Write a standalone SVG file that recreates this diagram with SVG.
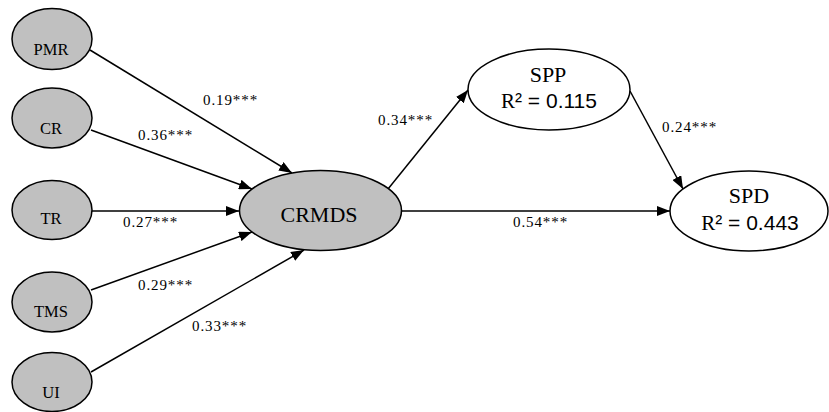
<svg xmlns="http://www.w3.org/2000/svg" width="829" height="412" viewBox="0 0 829 412">
  <style>
    .bg { fill: #ffffff; }
    .node-grey { fill: #c0c0c0; stroke: #000000; stroke-width: 1.5; }
    .node-white { fill: #ffffff; stroke: #000000; stroke-width: 1.5; }
    .edge { fill: none; stroke: #000000; stroke-width: 1.5; marker-end: url(#arrow); }
    .serif { font-family: "Liberation Serif", serif; fill: #000000; }
    .sans { font-family: "Liberation Sans", sans-serif; fill: #000000; }
    .small { font-size: 16.5px; text-anchor: middle; }
    .big { font-size: 22px; text-anchor: middle; }
    .r2 { font-size: 21px; text-anchor: middle; }
    .coef { font-size: 15px; letter-spacing: 0.9px; }
  </style>
  <defs>
    <marker id="arrow" markerUnits="userSpaceOnUse" markerWidth="13" markerHeight="10" refX="13" refY="5" orient="auto">
      <path d="M0,0 L13,5 L0,10 Z" fill="#000000"/>
    </marker>
  </defs>

  <rect class="bg" x="0" y="0" width="829" height="412"/>

  <!-- paths between constructs -->
  <g id="connectors">
    <path class="edge" d="M90,50 L292,173"/>
    <path class="edge" d="M91,130 L252,189"/>
    <path class="edge" d="M92,211 L239,211"/>
    <path class="edge" d="M91,290 L252,232"/>
    <path class="edge" d="M91,372 L304,250"/>
    <path class="edge" d="M388,189 L468,90"/>
    <path class="edge" d="M630,91 L683,189"/>
    <path class="edge" d="M402,211 L670,211"/>

    <text class="serif coef" x="203" y="105">0.19***</text>
    <text class="serif coef" x="138" y="140">0.36***</text>
    <text class="serif coef" x="123" y="227">0.27***</text>
    <text class="serif coef" x="138" y="290">0.29***</text>
    <text class="serif coef" x="192" y="331">0.33***</text>
    <text class="serif coef" x="378" y="125">0.34***</text>
    <text class="serif coef" x="662" y="132">0.24***</text>
    <text class="serif coef" x="513" y="227">0.54***</text>
  </g>

  <!-- antecedent constructs -->
  <g id="PMR">
    <ellipse class="node-grey" cx="52" cy="39" rx="40" ry="30.5"/>
    <text class="serif small" x="51" y="55">PMR</text>
  </g>
  <g id="CR">
    <ellipse class="node-grey" cx="52" cy="118" rx="40" ry="30"/>
    <text class="serif small" x="51" y="134">CR</text>
  </g>
  <g id="TR">
    <ellipse class="node-grey" cx="52" cy="210" rx="40" ry="29.5"/>
    <text class="serif small" x="51" y="224">TR</text>
  </g>
  <g id="TMS">
    <ellipse class="node-grey" cx="52" cy="302" rx="40" ry="30"/>
    <text class="serif small" x="51" y="317">TMS</text>
  </g>
  <g id="UI">
    <ellipse class="node-grey" cx="52" cy="382" rx="40" ry="29.5"/>
    <text class="serif small" x="51" y="398">UI</text>
  </g>

  <!-- central construct -->
  <g id="CRMDS">
    <ellipse class="node-grey" cx="320.5" cy="210.5" rx="81" ry="40"/>
    <text class="serif big" x="319" y="222">CRMDS</text>
  </g>

  <!-- outcome constructs -->
  <g id="SPP">
    <ellipse class="node-white" cx="549" cy="89.5" rx="81" ry="40.5"/>
    <text class="serif big" x="548" y="82">SPP</text>
    <text class="sans r2" x="549" y="108"><tspan class="serif">R</tspan>² = 0.115</text>
  </g>
  <g id="SPD">
    <ellipse class="node-white" cx="749" cy="211" rx="79" ry="40"/>
    <text class="serif big" x="749" y="203">SPD</text>
    <text class="sans r2" x="750" y="230"><tspan class="serif">R</tspan>² = 0.443</text>
  </g>
</svg>
